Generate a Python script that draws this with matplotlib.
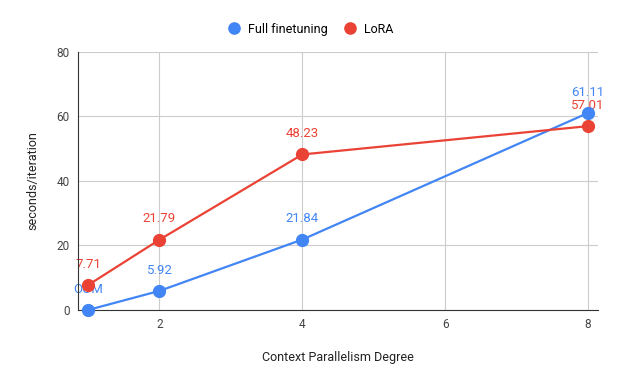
import matplotlib
matplotlib.use("Agg")
import matplotlib.pyplot as plt

plt.rcParams['font.family'] = ['Roboto', 'DejaVu Sans']

# data
degrees = [1, 2, 4, 8]
full_ft = [0, 5.92, 21.84, 61.11]
full_ft_labels = ['OOM', '5.92', '21.84', '61.11']
lora = [7.71, 21.79, 48.23, 57.01]
lora_labels = ['7.71', '21.79', '48.23', '57.01']
x_ticks = [2, 4, 6, 8]
y_ticks = [0, 20, 40, 60, 80]

blue = '#4285F4'
red = '#EA4335'

fig = plt.figure(figsize=(6.17, 3.82), dpi=100)
ax = fig.add_axes([0.1264, 0.1885, 0.843, 0.6754])

ax.plot(degrees, full_ft, color=blue, lw=1.6, marker='o', ms=8.5,
        label='Full finetuning', clip_on=False, zorder=3)
ax.plot(degrees, lora, color=red, lw=1.6, marker='o', ms=8.5,
        label='LoRA', clip_on=False, zorder=4)

# point labels
for x, y, t in zip(degrees, full_ft, full_ft_labels):
    ax.annotate(t, (x, y), xytext=(0, 15), textcoords='offset points',
                ha='center', va='center', color=blue, fontsize=9.5, zorder=2)
for x, y, t in zip(degrees, lora, lora_labels):
    ax.annotate(t, (x, y), xytext=(0, 15), textcoords='offset points',
                ha='center', va='center', color=red, fontsize=9.5, zorder=2)

ax.set_xlim(0.86, 8.14)
ax.set_ylim(0, 80)
ax.set_xticks(x_ticks)
ax.set_yticks(y_ticks)
ax.tick_params(length=0, labelsize=8.5, labelcolor='#444444', pad=6)
ax.grid(True, color='#cccccc', lw=0.8)
ax.set_axisbelow(True)
for s in ['top', 'right']:
    ax.spines[s].set_visible(False)
ax.spines['left'].set_color('#333333')
ax.spines['bottom'].set_color('#333333')

ax.set_xlabel('Context Parallelism Degree', fontsize=9, color='#222222', labelpad=14)
ax.set_ylabel('seconds/iteration', fontsize=9, color='#222222', labelpad=12)

leg = fig.legend(loc='upper center', bbox_to_anchor=(0.503, 0.97), ncol=2, frameon=False,
                 fontsize=9, handlelength=1.0, handletextpad=0.6, columnspacing=1.3,
                 markerscale=0.95)
for h in leg.legend_handles:
    h.set_linestyle('None')

fig.savefig('out.png', dpi=100)
